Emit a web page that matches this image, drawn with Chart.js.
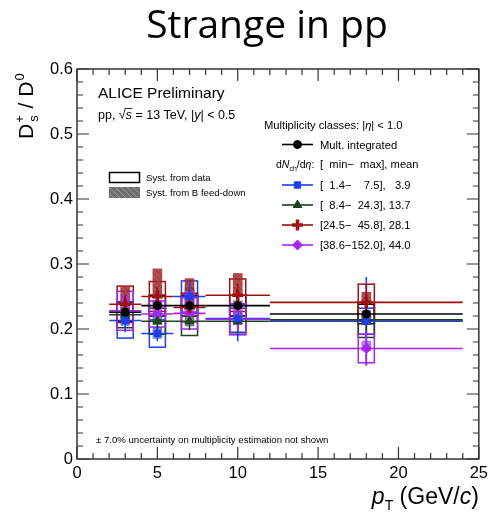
<!DOCTYPE html>
<html>
<head>
<meta charset="utf-8">
<script src="https://cdn.jsdelivr.net/npm/chart.js@4"></script>
<style>
html, body { margin: 0; padding: 0; background: #fff; }
#wrap { width: 493px; height: 513px; }
</style>
</head>
<body>
<div id="wrap"><canvas id="ratio" width="493" height="513"></canvas></div>
<script>
// pT bins
const binCenters = [3, 5, 7, 10, 18];
const binLow = [2, 4, 6, 8, 12];
const binHigh = [4, 6, 8, 12, 24];

// Ds+/D0 ratio, multiplicity integrated
const multInt = [0.226, 0.236, 0.236, 0.236, 0.223];
const multIntStat = [0.008, 0.008, 0.009, 0.010, 0.012];
const multIntSyst = [0.015, 0.016, 0.016, 0.016, 0.015];
const multIntFdUp = [0.008, 0.008, 0.008, 0.008, 0.006];
const multIntFdDn = [0.004, 0.004, 0.004, 0.004, 0.004];

// [1.4-7.5]
const multLow = [0.213, 0.193, 0.250, 0.216, 0.212];
const multLowStat = [0.018, 0.012, 0.022, 0.035, 0.068];
const multLowSyst = [0.027, 0.021, 0.024, 0.021, 0.020];
const multLowFdUp = [0.012, 0.010, 0.014, 0.010, 0.010];
const multLowFdDn = [0.008, 0.008, 0.006, 0.006, 0.006];

// [8.4-24.3]
const multMid = [0.222, 0.212, 0.212, 0.212, 0.214];
const multMidStat = [0.012, 0.012, 0.014, 0.016, 0.025];
const multMidSyst = [0.020, 0.020, 0.022, 0.020, 0.027];
const multMidFdUp = [0.012, 0.010, 0.014, 0.010, 0.008];
const multMidFdDn = [0.008, 0.006, 0.008, 0.006, 0.006];

// [24.5-45.8]
const multHigh = [0.238, 0.250, 0.233, 0.252, 0.241];
const multHighStat = [0.015, 0.015, 0.016, 0.018, 0.028];
const multHighSyst = [0.028, 0.023, 0.022, 0.025, 0.028];
const multHighFdUp = [0.028, 0.043, 0.045, 0.034, 0.016];
const multHighFdDn = [0.003, 0.003, 0.003, 0.003, 0.003];

// [38.6-152.0]
const multTop = [0.228, 0.223, 0.224, 0.215, 0.170];
const multTopStat = [0.014, 0.014, 0.016, 0.018, 0.026];
const multTopSyst = [0.030, 0.020, 0.024, 0.024, 0.022];
const multTopFdUp = [0.025, 0.022, 0.035, 0.025, 0.012];
const multTopFdDn = [0.004, 0.004, 0.004, 0.004, 0.004];

const xTicks = [0, 5, 10, 15, 20, 25];
const yTicks = [0, 0.1, 0.2, 0.3, 0.4, 0.5, 0.6];

const series = [
  {label: 'Mult. integrated', y: multInt, stat: multIntStat, syst: multIntSyst, fdUp: multIntFdUp, fdDn: multIntFdDn,
   color: '#000000', fd: 'rgba(50,50,50,0.55)', style: 'circle', radius: 4, bw: 1},
  {label: '[  1.4\u2212    7.5],   3.9', y: multLow, stat: multLowStat, syst: multLowSyst, fdUp: multLowFdUp, fdDn: multLowFdDn,
   color: '#1f3ff0', fd: 'rgba(40,70,200,0.6)', style: 'rect', radius: 4.5, bw: 1},
  {label: '[  8.4\u2212  24.3], 13.7', y: multMid, stat: multMidStat, syst: multMidSyst, fdUp: multMidFdUp, fdDn: multMidFdDn,
   color: '#1c4220', fd: 'rgba(35,80,40,0.6)', style: 'triangle', radius: 5, bw: 1},
  {label: '[24.5\u2212  45.8], 28.1', y: multHigh, stat: multHighStat, syst: multHighSyst, fdUp: multHighFdUp, fdDn: multHighFdDn,
   color: '#a01010', fd: 'rgba(165,45,45,0.85)', style: 'cross', radius: 5.5, bw: 3.5},
  {label: '[38.6\u2212152.0], 44.0', y: multTop, stat: multTopStat, syst: multTopSyst, fdUp: multTopFdUp, fdDn: multTopFdDn,
   color: '#a526f2', fd: 'rgba(170,60,240,0.7)', style: 'rectRot', radius: 5, bw: 1}
];

const FONT = '"Liberation Sans", Arial, sans-serif';

function hatchPattern(ctx, base, line) {
  const c = document.createElement('canvas');
  c.width = 6; c.height = 6;
  const g = c.getContext('2d');
  g.fillStyle = base; g.fillRect(0, 0, 6, 6);
  g.strokeStyle = line; g.lineWidth = 1;
  g.beginPath();
  g.moveTo(0, 0); g.lineTo(6, 6);
  g.moveTo(-1, 5); g.lineTo(1, 7);
  g.moveTo(5, -1); g.lineTo(7, 1);
  g.stroke();
  return ctx.createPattern(c, 'repeat');
}

function marker(ctx, s, x, y) {
  ctx.save();
  ctx.fillStyle = s.color;
  ctx.strokeStyle = s.color;
  ctx.lineWidth = s.bw;
  Chart.helpers.drawPoint(ctx, {pointStyle: s.style, radius: s.radius, rotation: 0, borderWidth: s.bw}, x, y);
  ctx.restore();
}

const rootStyle = {
  id: 'rootStyle',
  beforeDatasetsDraw(chart) {
    const ctx = chart.ctx, xs = chart.scales.x, ys = chart.scales.y, a = chart.chartArea;
    ctx.save();
    ctx.beginPath(); ctx.rect(a.left, a.top, a.right - a.left, a.bottom - a.top); ctx.clip();
    // syst boxes from data (open)
    series.forEach(s => {
      ctx.strokeStyle = s.color; ctx.lineWidth = 1.5;
      binCenters.forEach((c, i) => {
        const x0 = xs.getPixelForValue(c - 0.5), x1 = xs.getPixelForValue(c + 0.5);
        const y0 = ys.getPixelForValue(s.y[i] + s.syst[i]), y1 = ys.getPixelForValue(s.y[i] - s.syst[i]);
        ctx.strokeRect(x0, y0, x1 - x0, y1 - y0);
      });
    });
    // feed-down boxes (filled, hatched)
    series.forEach(s => {
      ctx.fillStyle = hatchPattern(ctx, s.fd, 'rgba(0,0,0,0.18)');
      binCenters.forEach((c, i) => {
        const x0 = xs.getPixelForValue(c - 0.3), x1 = xs.getPixelForValue(c + 0.3);
        const y0 = ys.getPixelForValue(s.y[i] + s.fdUp[i]), y1 = ys.getPixelForValue(s.y[i] - s.fdDn[i]);
        ctx.fillRect(x0, y0, x1 - x0, y1 - y0);
      });
    });
    // bin-width lines and stat bars
    series.forEach(s => {
      ctx.strokeStyle = s.color; ctx.lineWidth = 1.6;
      binCenters.forEach((c, i) => {
        const py = ys.getPixelForValue(s.y[i]);
        const px = xs.getPixelForValue(c);
        ctx.beginPath();
        ctx.moveTo(xs.getPixelForValue(binLow[i]), py);
        ctx.lineTo(xs.getPixelForValue(binHigh[i]), py);
        ctx.moveTo(px, ys.getPixelForValue(s.y[i] + s.stat[i]));
        ctx.lineTo(px, ys.getPixelForValue(s.y[i] - s.stat[i]));
        ctx.stroke();
      });
    });
    ctx.restore();
  },
  afterDraw(chart) {
    const ctx = chart.ctx, xs = chart.scales.x, ys = chart.scales.y, a = chart.chartArea;
    ctx.save();
    // slide title
    ctx.fillStyle = '#000';
    ctx.textAlign = 'center';
    ctx.textBaseline = 'alphabetic';
    ctx.font = '39px "Open Sans", "Noto Sans", sans-serif';
    ctx.fillText('Strange in pp', 267, 38);
    ctx.textAlign = 'left';

    // frame
    ctx.strokeStyle = '#333'; ctx.lineWidth = 1.5;
    ctx.strokeRect(a.left, a.top, a.right - a.left, a.bottom - a.top);
    // ticks inside on all sides
    ctx.lineWidth = 1.2;
    ctx.beginPath();
    for (let v = 0; v <= 25.001; v += 1) {
      const len = (Math.round(v) % 5 === 0) ? 12 : 6;
      const px = xs.getPixelForValue(v);
      ctx.moveTo(px, a.bottom); ctx.lineTo(px, a.bottom - len);
      ctx.moveTo(px, a.top); ctx.lineTo(px, a.top + len);
    }
    for (let k = 0; k <= 30; k++) {
      const len = (k % 5 === 0) ? 12 : 6;
      const py = ys.getPixelForValue(k * 0.02);
      ctx.moveTo(a.left, py); ctx.lineTo(a.left + len, py);
      ctx.moveTo(a.right, py); ctx.lineTo(a.right - len, py);
    }
    ctx.stroke();

    ctx.fillStyle = '#000';
    // y title: Ds+ / D0
    ctx.save();
    ctx.translate(33, 139);
    ctx.rotate(-Math.PI / 2);
    let x = 0;
    ctx.font = '21px ' + FONT;
    ctx.fillText('D', x, 0); x += ctx.measureText('D').width + 1;
    ctx.font = '13px ' + FONT;
    ctx.fillText('+', x, -9); ctx.fillText('s', x + 1, 5);
    x += ctx.measureText('+').width + 1;
    ctx.font = '21px ' + FONT;
    ctx.fillText(' / D', x, 0); x += ctx.measureText(' / D').width + 1;
    ctx.font = '13px ' + FONT;
    ctx.fillText('0', x, -9);
    ctx.restore();

    // x title: pT (GeV/c), right aligned
    const parts = [
      {t: 'p', f: 'italic 23px ' + FONT, dy: 0},
      {t: 'T', f: '14px ' + FONT, dy: 6},
      {t: ' (GeV/', f: '23px ' + FONT, dy: 0},
      {t: 'c', f: 'italic 23px ' + FONT, dy: 0},
      {t: ')', f: '23px ' + FONT, dy: 0}
    ];
    let w = 0;
    parts.forEach(p => { ctx.font = p.f; p.w = ctx.measureText(p.t).width; w += p.w; });
    x = a.right - w;
    parts.forEach(p => { ctx.font = p.f; ctx.fillText(p.t, x, 504 + p.dy); x += p.w; });

    // labels in the pad
    ctx.font = '15.5px ' + FONT;
    ctx.fillText('ALICE Preliminary', 98, 98);
    x = 98;
    const put = (t, f) => { ctx.font = f; ctx.fillText(t, x, 119); x += ctx.measureText(t).width; };
    put('pp, ', '12.5px ' + FONT);
    const sqX = x;
    put('\u221A', '12.5px ' + FONT);
    const sqW = x - sqX;
    put('s', 'italic 12.5px ' + FONT);
    const sEnd = x;
    put(' = 13 TeV, |', '12.5px ' + FONT);
    put('y', 'italic 12.5px ' + FONT);
    put('| < 0.5', '12.5px ' + FONT);
    // sqrt bar over s
    ctx.lineWidth = 0.8; ctx.strokeStyle = '#000';
    ctx.beginPath(); ctx.moveTo(sqX + sqW * 0.8, 108.5); ctx.lineTo(sEnd + 0.5, 108.5); ctx.stroke();

    // multiplicity legend
    x = 264;
    const put2 = (t, f, yy) => { ctx.font = f; ctx.fillText(t, x, yy); x += ctx.measureText(t).width; };
    put2('Multiplicity classes: |', '11.2px ' + FONT, 129);
    put2('\u03B7', 'italic 11.2px ' + FONT, 129);
    put2('| < 1.0', '11.2px ' + FONT, 129);

    const rowY = [144.5, 185, 205, 225, 245];
    series.forEach((s, i) => {
      const yy = rowY[i];
      ctx.strokeStyle = s.color; ctx.lineWidth = 1.6;
      ctx.beginPath(); ctx.moveTo(282, yy); ctx.lineTo(313, yy); ctx.stroke();
      marker(ctx, s, 297.5, yy);
      ctx.fillStyle = '#000';
      ctx.font = '11.2px ' + FONT;
      ctx.fillText(s.label, 320, yy + 4);
    });
    x = 276;
    put2('d', '10.5px ' + FONT, 168);
    put2('N', 'italic 10.5px ' + FONT, 168);
    ctx.font = '7px ' + FONT; ctx.fillText('ch', x, 171); x += ctx.measureText('ch').width;
    put2('/d', '10.5px ' + FONT, 168);
    put2('\u03B7', 'italic 10.5px ' + FONT, 168);
    put2(':', '10.5px ' + FONT, 168);
    x = 320;
    put2('[  min\u2212  max], mean', '11.2px ' + FONT, 168);

    // syst legend
    ctx.strokeStyle = '#000'; ctx.lineWidth = 1.5;
    ctx.strokeRect(109.5, 172.5, 30, 10);
    ctx.fillStyle = hatchPattern(ctx, '#6e6e6e', '#9a9a9a');
    ctx.fillRect(109, 187, 31, 11);
    ctx.fillStyle = '#000';
    ctx.font = '9.6px ' + FONT;
    ctx.fillText('Syst. from data', 146, 181);
    ctx.fillText('Syst. from B feed-down', 146, 196);

    ctx.font = '9.6px ' + FONT;
    ctx.fillText('\u00B1 7.0% uncertainty on multiplicity estimation not shown', 96, 443);
    ctx.restore();
  }
};

const ctxRatio = document.getElementById('ratio');
const ratioChart = new Chart(ctxRatio, {
  type: 'scatter',
  data: {
    datasets: series.map(s => ({
      label: s.label,
      data: binCenters.map((c, i) => ({x: c, y: s.y[i]})),
      pointStyle: s.style,
      pointRadius: s.radius,
      pointBorderWidth: s.bw,
      backgroundColor: s.color,
      borderColor: s.color
    }))
  },
  options: {
    responsive: false,
    animation: false,
    events: [],
    layout: { padding: { left: 0, right: 11, top: 69, bottom: 0 } },
    plugins: {
      legend: { display: false },
      tooltip: { enabled: false },
      title: { display: false }
    },
    scales: {
      x: {
        type: 'linear',
        min: 0,
        max: 25,
        afterBuildTicks: scale => { scale.ticks = xTicks.map(v => ({value: v})); },
        afterFit: scale => { scale.height = 54; },
        grid: { display: false, drawTicks: false },
        border: { display: false },
        ticks: { color: '#000', padding: 5, font: { family: FONT, size: 16.5 }, maxRotation: 0 }
      },
      y: {
        type: 'linear',
        min: 0,
        max: 0.6,
        afterBuildTicks: scale => { scale.ticks = yTicks.map(v => ({value: v})); },
        afterFit: scale => { scale.width = 77; },
        grid: { display: false, drawTicks: false },
        border: { display: false },
        ticks: { color: '#000', padding: 4, font: { family: FONT, size: 16.5 },
                 callback: v => (v === 0 ? '0' : v.toFixed(1)) }
      }
    }
  },
  plugins: [rootStyle]
});
</script>
</body>
</html>
